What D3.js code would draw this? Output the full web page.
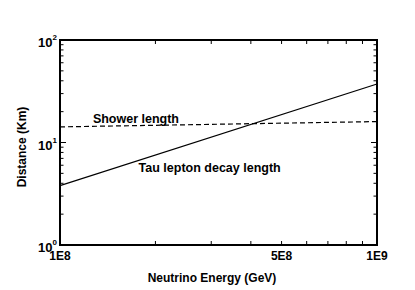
<!DOCTYPE html>
<html>
<head>
<meta charset="utf-8">
<script src="https://cdn.jsdelivr.net/npm/d3@7"></script>
<style>
  body { margin: 0; background: #fff; }
  text { font-family: "Liberation Sans", Arial, sans-serif; font-weight: bold; fill: #000; }
</style>
</head>
<body>
<svg width="415" height="290"></svg>
<script>
// data
var energy   = [1e8, 1e9];          // GeV
var tauDecay = [3.8, 37.2];         // km
var shower   = [14.2, 16.0];        // km

var xLabelTicks = [1e8, 5e8, 1e9];
var xLabelText  = ["1E8", "5E8", "1E9"];
var yLabelTicks = [1, 10, 100];
var yLabelExp   = ["0", "1", "2"];

var svg = d3.select("svg");
var plotL = 60, plotR = 377, plotT = 40, plotB = 245;

var x = d3.scaleLog().domain([1e8, 1e9]).range([plotL, plotR]);
var y = d3.scaleLog().domain([1, 100]).range([plotB, plotT]);

// minor ticks
var xMinor = d3.range(2, 10).map(function(d) { return d * 1e8; });
var yMinor = [];
[1, 10].forEach(function(p) { d3.range(2, 10).forEach(function(m) { yMinor.push(m * p); }); });

var ticks = svg.append("g").attr("stroke", "#000").attr("stroke-width", 1);

xMinor.forEach(function(v) {
  ticks.append("line").attr("x1", x(v)).attr("x2", x(v)).attr("y1", plotB).attr("y2", plotB - 4);
  ticks.append("line").attr("x1", x(v)).attr("x2", x(v)).attr("y1", plotT).attr("y2", plotT + 4);
});
yMinor.forEach(function(v) {
  ticks.append("line").attr("x1", plotL).attr("x2", plotL + 3.5).attr("y1", y(v)).attr("y2", y(v));
  ticks.append("line").attr("x1", plotR).attr("x2", plotR - 3.5).attr("y1", y(v)).attr("y2", y(v));
});
yLabelTicks.forEach(function(v) {
  ticks.append("line").attr("x1", plotL).attr("x2", plotL + 6).attr("y1", y(v)).attr("y2", y(v));
  ticks.append("line").attr("x1", plotR).attr("x2", plotR - 6).attr("y1", y(v)).attr("y2", y(v));
});

// frame
svg.append("rect")
  .attr("x", plotL).attr("y", plotT)
  .attr("width", plotR - plotL).attr("height", plotB - plotT)
  .attr("fill", "none").attr("stroke", "#000").attr("stroke-width", 2);

// lines
var line = d3.line()
  .x(function(d) { return x(d[0]); })
  .y(function(d) { return y(d[1]); });

svg.append("path")
  .datum(d3.zip(energy, tauDecay))
  .attr("d", line)
  .attr("fill", "none").attr("stroke", "#000").attr("stroke-width", 1.2);

svg.append("path")
  .datum(d3.zip(energy, shower))
  .attr("d", line)
  .attr("fill", "none").attr("stroke", "#000").attr("stroke-width", 1.2)
  .attr("stroke-dasharray", "5,3");

// x tick labels
xLabelTicks.forEach(function(v, i) {
  svg.append("text")
    .attr("x", x(v)).attr("y", 260)
    .attr("text-anchor", "middle")
    .style("font-size", "12px")
    .text(xLabelText[i]);
});

// y tick labels 10^n
yLabelTicks.forEach(function(v, i) {
  var t = svg.append("text")
    .attr("x", plotL - 3).attr("y", y(v) + 7)
    .attr("text-anchor", "end")
    .style("font-size", "13px");
  t.append("tspan").text("10");
  t.append("tspan")
    .attr("dy", -7)
    .style("font-size", "8px")
    .text(yLabelExp[i]);
});

// axis titles
svg.append("text")
  .attr("x", 212).attr("y", 282)
  .attr("text-anchor", "middle")
  .style("font-size", "12px")
  .text("Neutrino Energy (GeV)");

svg.append("text")
  .attr("transform", "translate(26,147) rotate(-90)")
  .attr("text-anchor", "middle")
  .style("font-size", "12px")
  .text("Distance (Km)");

// curve labels
svg.append("text")
  .attr("x", x(1.27e8)).attr("y", y(15.5))
  .style("font-size", "12.5px")
  .text("Shower length");

svg.append("text")
  .attr("x", x(1.77e8)).attr("y", y(5.15))
  .style("font-size", "12.5px")
  .text("Tau lepton decay length");
</script>
</body>
</html>
